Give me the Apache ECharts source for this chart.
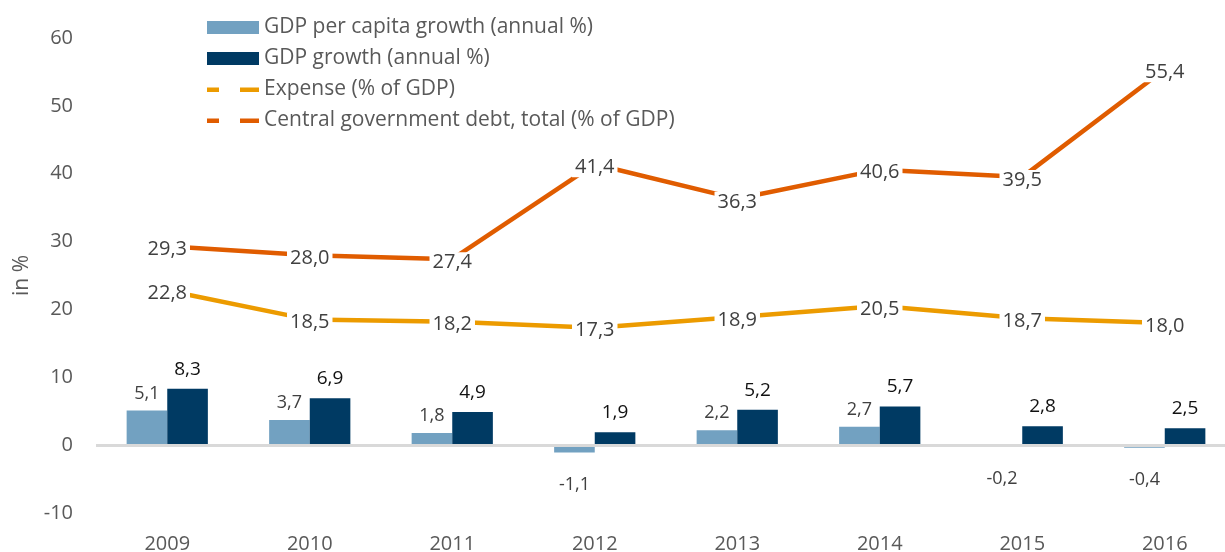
<!DOCTYPE html>
<html>
<head>
<meta charset="utf-8">
<script src="https://cdn.jsdelivr.net/npm/echarts@6/dist/echarts.min.js"></script>
<style>
html,body{margin:0;padding:0;background:#fff;}
#chart{width:1225px;height:552px;}
</style>
</head>
<body>
<div id="chart"></div>
<script>
const years = ['2009','2010','2011','2012','2013','2014','2015','2016'];
const gdpPerCapita = [5.1, 3.7, 1.8, -1.1, 2.2, 2.7, -0.2, -0.4];
const gdpGrowth = [8.3, 6.9, 4.9, 1.9, 5.2, 5.7, 2.8, 2.5];
const expense = [22.8, 18.5, 18.2, 17.3, 18.9, 20.5, 18.7, 18.0];
const debt = [29.3, 28.0, 27.4, 41.4, 36.3, 40.6, 39.5, 55.4];
const yTicks = [-10, 0, 10, 20, 30, 40, 50, 60];

const FONT = '"Open Sans", "Noto Sans", sans-serif';
const fmt = v => v.toFixed(1).replace('.', ',');
const dashIcon = 'path://M0,0M0,4.5h12v4.5h-12zM33,4.5h19v4.5h-19zM52,13';

function barData(values, dist, negDist) {
  return values.map(v => ({
    value: v,
    label: v < 0 ? { position: 'bottom', distance: negDist } : { position: 'top', distance: dist }
  }));
}

const chart = echarts.init(document.getElementById('chart'));
chart.setOption({
  animation: false,
  backgroundColor: '#ffffff',
  textStyle: { fontFamily: FONT },
  legend: {
    orient: 'vertical',
    left: 202,
    top: 12,
    itemWidth: 52,
    itemHeight: 13,
    itemGap: 10,
    textStyle: { fontFamily: FONT, fontSize: 21, color: '#595959', lineHeight: 21 },
    data: [
      { name: 'GDP per capita growth (annual %)', icon: 'rect' },
      { name: 'GDP growth (annual %)', icon: 'rect' },
      { name: 'Expense (% of GDP)', icon: dashIcon, itemStyle: { color: '#ec9b00' } },
      { name: 'Central government debt, total (% of GDP)', icon: dashIcon, itemStyle: { color: '#e05c00' } }
    ]
  },
  grid: { left: 96, width: 1140, top: 38, bottom: 39, containLabel: false, outerBoundsMode: 'none' },
  xAxis: {
    type: 'category',
    data: years,
    axisLine: { show: false, onZero: false },
    axisTick: { show: false },
    axisLabel: { fontFamily: FONT, fontSize: 20, color: '#595959', margin: 21 }
  },
  yAxis: {
    type: 'value',
    min: yTicks[0],
    max: yTicks[yTicks.length - 1],
    interval: 10,
    name: 'in %',
    nameLocation: 'middle',
    nameGap: 63,
    nameTextStyle: { fontFamily: FONT, fontSize: 21, color: '#595959' },
    axisLine: { show: false },
    axisTick: { show: false },
    axisLabel: { fontFamily: FONT, fontSize: 20, color: '#595959', margin: 23 },
    splitLine: { show: false }
  },
  series: [
    {
      name: 'GDP per capita growth (annual %)',
      type: 'bar',
      data: barData(gdpPerCapita, 8, 23),
      barGap: '0%',
      barCategoryGap: '43%',
      itemStyle: { color: '#72a1c1' },
      label: { show: true, fontFamily: FONT, fontSize: 18, color: '#404040', formatter: p => fmt(p.value) }
    },
    {
      name: 'GDP growth (annual %)',
      type: 'bar',
      data: barData(gdpGrowth, 10, 22),
      barGap: '0%',
      barCategoryGap: '43%',
      itemStyle: { color: '#003a63' },
      label: { show: true, fontFamily: FONT, fontSize: 19, color: '#111111', formatter: p => fmt(p.value) },
      markLine: {
        silent: true,
        symbol: ['none', 'none'],
        label: { show: false },
        lineStyle: { color: '#d9d9d9', width: 3, type: 'solid' },
        data: [{ yAxis: 0 }]
      }
    },
    {
      name: 'Expense (% of GDP)',
      type: 'line',
      data: expense,
      symbol: 'circle',
      symbolSize: 1,
      itemStyle: { color: 'rgba(0,0,0,0)' },
      lineStyle: { color: '#ec9b00', width: 4.5 },
      z: 3,
      label: {
        show: true, position: 'inside', offset: [0, 3],
        fontFamily: FONT, fontSize: 20, color: '#404040',
        backgroundColor: '#ffffff', padding: [0, 3],
        formatter: p => fmt(p.value)
      }
    },
    {
      name: 'Central government debt, total (% of GDP)',
      type: 'line',
      data: debt,
      symbol: 'circle',
      symbolSize: 1,
      itemStyle: { color: 'rgba(0,0,0,0)' },
      lineStyle: { color: '#e05c00', width: 4.5 },
      z: 3,
      label: {
        show: true, position: 'inside', offset: [0, 3],
        fontFamily: FONT, fontSize: 20, color: '#404040',
        backgroundColor: '#ffffff', padding: [0, 3],
        formatter: p => fmt(p.value)
      }
    }
  ]
});
</script>
</body>
</html>
